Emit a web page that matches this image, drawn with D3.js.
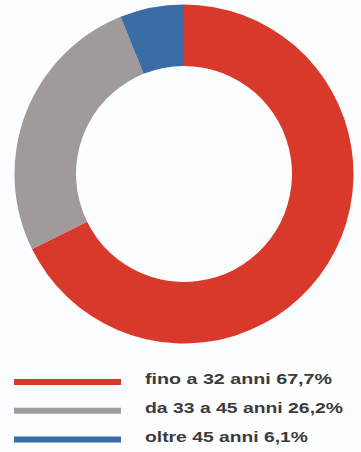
<!DOCTYPE html>
<html>
<head>
<meta charset="utf-8">
<script src="https://cdn.jsdelivr.net/npm/d3@7"></script>
<style>
  html, body { margin: 0; padding: 0; background: #fcfdfe; }
  svg { display: block; }
</style>
</head>
<body>
<svg id="chart" width="361" height="452"></svg>
<script>
// Age groups and their shares (%)
const categories = ["fino a 32 anni", "da 33 a 45 anni", "oltre 45 anni"];
const values = [67.7, 26.2, 6.1];
const labels = ["67,7%", "26,2%", "6,1%"];
const colors = ["#d9392b", "#a09a9b", "#3a6da5"];

const svg = d3.select("#chart");
const cx = 184, cy = 174, outerR = 169.5, innerR = 108;

const pie = d3.pie().sort(null).value(d => d)
  .startAngle(0).endAngle(2 * Math.PI);
const arc = d3.arc().innerRadius(innerR).outerRadius(outerR);

const ring = svg.append("g").attr("transform", `translate(${cx},${cy})`);
ring.selectAll("path")
  .data(pie(values))
  .join("path")
  .attr("d", arc)
  .attr("fill", (d, i) => colors[i]);

// Legend: thick colour bar followed by the label
const legendY = d3.scalePoint().domain(d3.range(categories.length)).range([384, 441.5]);
const textWidths = [187, 198, 163];

const legend = svg.append("g");
const rows = legend.selectAll("g")
  .data(categories)
  .join("g")
  .attr("transform", (d, i) => `translate(0,${legendY(i)})`);

rows.append("line")
  .attr("x1", 14).attr("x2", 121)
  .attr("y1", -2).attr("y2", -2)
  .attr("stroke", (d, i) => colors[i])
  .attr("stroke-width", 6);

rows.append("text")
  .attr("x", 145)
  .attr("y", 0)
  .attr("font-family", "Liberation Sans, Arial, sans-serif")
  .attr("font-size", 14)
  .attr("font-weight", "bold")
  .attr("fill", "#3d3b3c")
  .attr("textLength", (d, i) => textWidths[i])
  .attr("lengthAdjust", "spacingAndGlyphs")
  .text((d, i) => `${d} ${labels[i]}`);
</script>
</body>
</html>
